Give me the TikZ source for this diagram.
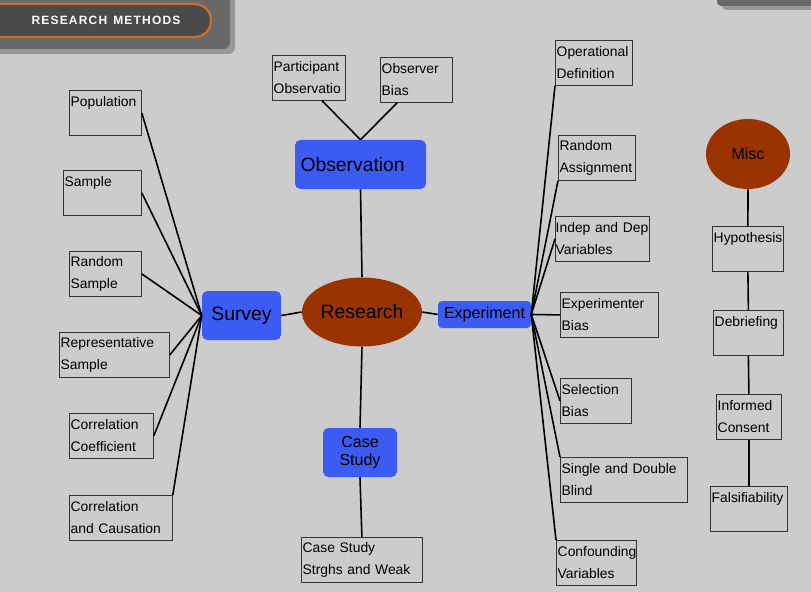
\documentclass[tikz,border=0pt]{standalone}
\usepackage{fontspec}
\setmainfont{Liberation Sans}
\newfontfamily\headfont[LetterSpace=10]{Liberation Sans}
\usetikzlibrary{shapes.geometric}
\definecolor{bggray}{RGB}{204,204,204}
\definecolor{topicblue}{RGB}{59,91,242}
\definecolor{hubred}{RGB}{153,51,0}
\definecolor{panelgray}{RGB}{104,104,104}
\definecolor{shadowgray}{RGB}{152,152,152}
\definecolor{copper}{RGB}{196,112,48}
\definecolor{pillgray}{RGB}{74,74,74}

\begin{document}
\begin{tikzpicture}[x=0.75pt, y=-0.75pt,
    hub/.style={ellipse, fill=hubred, inner sep=0pt, font=\fontsize{14.5}{17}\selectfont},
    topic/.style={fill=topicblue, rounded corners=4pt, inner sep=0pt, align=center, font=\fontsize{14.5}{17}\selectfont},
    item/.style={draw=black!80, line width=0.6pt, anchor=north west, text width=#1, minimum height=33.75pt, inner xsep=1pt, inner ysep=1pt, align=left, font=\fontsize{10.4}{16.5}\selectfont},
    link/.style={line width=1.2pt},
    title/.style={text=white, font=\headfont\bfseries\fontsize{9}{11}\selectfont}
]
    \clip (0,0) rectangle (811,592);
    \fill[bggray] (0,0) rectangle (811,592);

    % Header panels
    \fill[shadowgray, rounded corners=5pt] (-10,-10) rectangle (235,54);
    \fill[panelgray, rounded corners=5pt] (-10,-10) rectangle (230,49);
    \draw[copper, line width=1.8pt, fill=pillgray, rounded corners=12pt] (-30,4) rectangle (211,37);
    \node[title] (title) at (106,20) {RESEARCH\enspace METHODS};
    \fill[shadowgray, rounded corners=3pt] (722,-10) rectangle (820,10);
    \fill[panelgray, rounded corners=3pt] (717,-10) rectangle (820,6);

    % Main topics
    \node[hub, minimum width=90pt, minimum height=51.75pt] (research) at (362,312) {Research};
    \node[topic, minimum width=98.25pt, minimum height=36.75pt, text width=90pt, align=left] (observation) at (360.5,164.5) {Observation};
    \node[topic, minimum width=59.25pt, minimum height=36.75pt] (survey) at (241.5,315.5) {Survey};
    \node[topic, minimum width=69.75pt, minimum height=20.25pt, rounded corners=3pt, font=\fontsize{12}{14}\selectfont] (experiment) at (484.5,314.5) {Experiment};
    \node[topic, minimum width=55.5pt, minimum height=36.75pt, font=\fontsize{12}{13.5}\selectfont] (casestudy) at (360,452.5) {Case\\Study};
    \node[hub, minimum width=63pt, minimum height=52.5pt, font=\fontsize{12}{14}\selectfont] (misc) at (748,154) {Misc};

    % Observation items
    \node[item=52.75pt] (partobs) at (272,55) {Participant\\Observatio};
    \node[item=52pt] (obsbias) at (380,57) {Observer\\Bias};

    % Survey items
    \node[item=52pt] (population) at (69,90) {Population\\~};
    \node[item=56.5pt] (sample) at (63,170) {Sample\\~};
    \node[item=52pt] (randsample) at (69,251) {Random\\Sample};
    \node[item=80.5pt] (repsample) at (59,332) {Representative\\Sample};
    \node[item=61pt] (corrcoef) at (69,413) {Correlation\\Coefficient};
    \node[item=75.25pt] (corrcause) at (69,495) {Correlation\\and Causation};

    % Case study item
    \node[item=88.75pt] (strengths) at (301,537) {Case Study\\Strghs and Weak};

    % Experiment items
    \node[item=55.75pt] (opdef) at (555,40) {Operational\\Definition};
    \node[item=55.75pt] (randassign) at (558,135) {Random\\Assignment};
    \node[item=70pt, inner xsep=0.25pt] (indepdep) at (555,216) {Indep and Dep\\Variables};
    \node[item=71.5pt] (expbias) at (560,292) {Experimenter\\Bias};
    \node[item=51.25pt] (selbias) at (560,378) {Selection\\Bias};
    \node[item=93.25pt] (blind) at (560,457) {Single and Double\\Blind};
    \node[item=58pt] (confound) at (556,540) {Confounding\\Variables};

    % Misc items
    \node[item=51.25pt] (hypothesis) at (712,226) {Hypothesis\\~};
    \node[item=50.5pt] (debrief) at (713,310) {Debriefing\\~};
    \node[item=46.75pt] (consent) at (716,394) {Informed\\Consent};
    \node[item=55.75pt] (falsify) at (710,486) {Falsifiability\\~};

    % Centre links
    \draw[link] (research.north) -- (observation.south);
    \draw[link] (research.west) -- (survey.east);
    \draw[link] (research.east) -- (experiment.west);
    \draw[link] (research.south) -- (casestudy.north);
    \draw[link] (casestudy.south) -- (strengths.north);
    \draw[link] (observation.north) -- (partobs.-60);
    \draw[link] (observation.north) -- (obsbias.-130);

    % Survey links
    \foreach \n in {population, sample, randsample, repsample, corrcoef}
        \draw[link] (survey.west) -- (\n.east);
    \draw[link] (survey.west) -- (corrcause.north east);

    % Experiment links
    \foreach \n in {indepdep, expbias, selbias}
        \draw[link] (experiment.east) -- (\n.west);
    \foreach \n in {opdef, randassign}
        \draw[link] (experiment.east) -- (\n.south west);
    \foreach \n in {blind, confound}
        \draw[link] (experiment.east) -- (\n.north west);

    % Misc chain
    \draw[link] (misc.south) -- (hypothesis.north);
    \draw[link] (hypothesis.south) -- (debrief.north);
    \draw[link] (debrief.south) -- (consent.north);
    \draw[link] (consent.south) -- (falsify.north);

\end{tikzpicture}
\end{document}
